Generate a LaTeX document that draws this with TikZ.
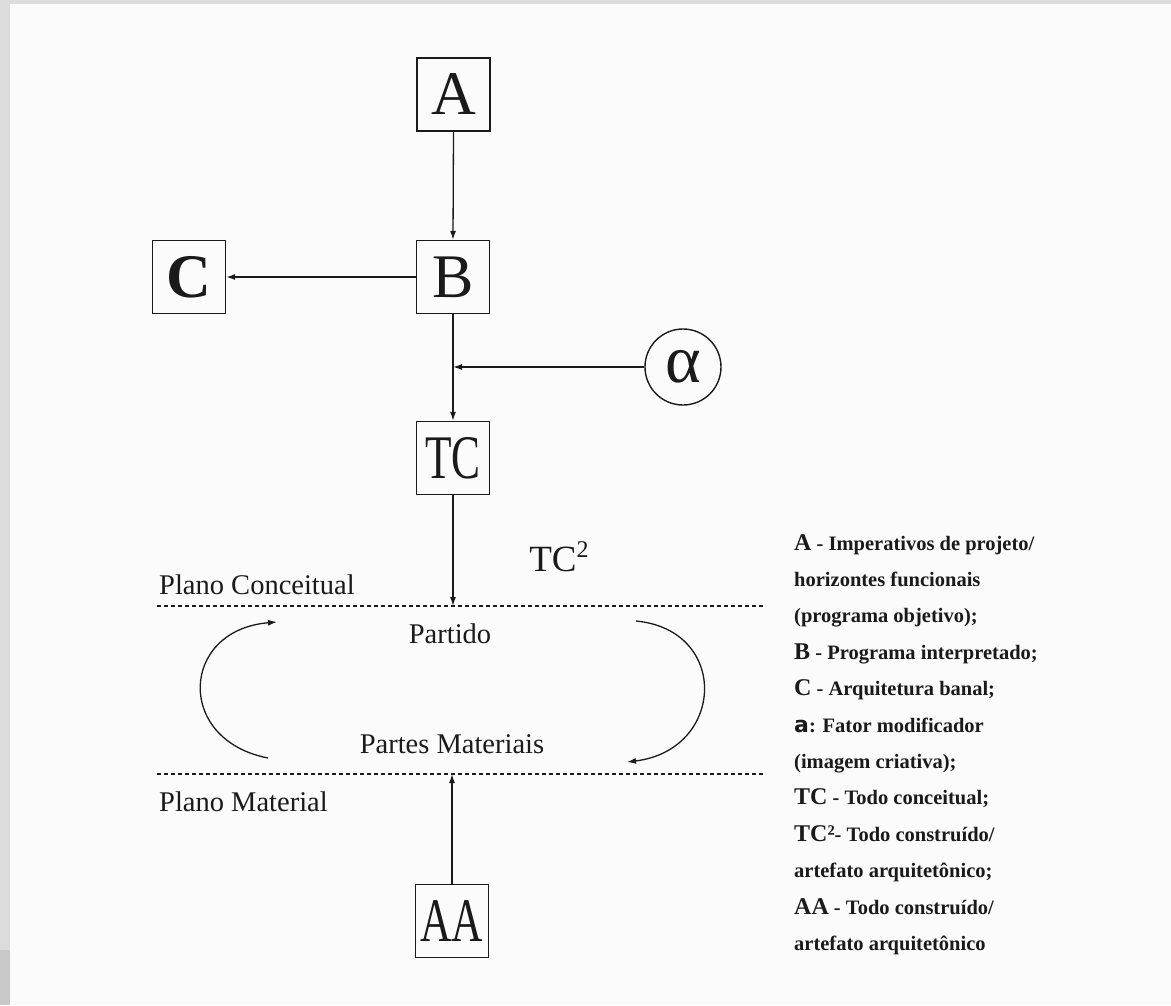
\documentclass[tikz,border=0pt]{standalone}
\usepackage{fontspec}
\setmainfont{Liberation Serif}
\newfontfamily\heavysans{DejaVu Sans}
\usetikzlibrary{arrows.meta}
\definecolor{pagebg}{HTML}{FBFBFB}
\definecolor{rim}{HTML}{DCDCDC}
\definecolor{rimdark}{HTML}{C8C8C8}
\definecolor{ink}{HTML}{1A1A1A}
\begin{document}
\begin{tikzpicture}[x=1pt,y=-1pt,
  boxnode/.style={draw=ink,line width=1.4pt,minimum size=73pt,inner sep=0pt,text=ink,font=\fontsize{62}{62}\selectfont},
  circnode/.style={draw=ink,line width=1.4pt,circle,minimum size=76pt,inner sep=0pt,text=ink,font=\fontsize{68}{68}\selectfont},
  arr/.style={draw=ink,line width=1.3pt,-{Latex[length=9pt,width=6pt]}},
  planeline/.style={draw=ink,line width=1.2pt,dash pattern=on 4pt off 3pt},
  lbl/.style={text=ink,inner sep=0pt,font=\fontsize{28.5}{28.5}\selectfont},
  legendtext/.style={text=ink,inner sep=0pt,align=left,anchor=north west,font=\fontsize{20.5}{36.4}\selectfont\bfseries},
  legkey/.style={font=\fontsize{24}{24}\selectfont\bfseries}
]
\useasboundingbox (0,0) rectangle (1171,1005);
\fill[rim] (0,0) rectangle (1171,1005);
\fill[rimdark] (0,950) rectangle (10,1005);
\fill[pagebg] (10,4) rectangle (1171,1005);

% boxes
\node[boxnode] (A) at (453.5,94.5) {A};
\node[boxnode] (B) at (453,277) {B};
\node[boxnode] (C) at (189,277) {\bfseries C};
\node[boxnode] (TC) at (453,458) {\scalebox{0.7}[1]{TC}};
\node[boxnode] (AA) at (452,921) {\scalebox{0.7}[1]{AA}};
\node[circnode] (alpha) at (683,367) {\raisebox{2pt}{α}};

% plane lines
\coordinate (p1l) at (157,606);
\coordinate (p1r) at (766,606);
\coordinate (p2l) at (157,774);
\coordinate (p2r) at (766,774);
\draw[planeline] (p1l) -- (p1r);
\draw[planeline] (p2l) -- (p2r);

\coordinate (j) at (453,367);
\coordinate (t1) at (453,606);
\coordinate (t2) at (452,774);

% connectors
\draw[arr] (A.south) -- (B.north);
\draw[arr] (B.west) -- (C.east);
\draw[arr] (B.south) -- (TC.north);
\draw[arr] (alpha.west) -- (j);
\draw[arr] (TC.south) -- (t1);
\draw[arr] (AA.north) -- (t2);

% cycle arrows
\coordinate (la) at (268,758);
\coordinate (lb) at (277,622);
\coordinate (ra) at (636,621);
\coordinate (rb) at (627,762);
\draw[arr] (la) .. controls (175,740) and (180,630) .. (lb);
\draw[arr] (ra) .. controls (730,630) and (725,750) .. (rb);

% labels
\node[lbl,anchor=base west] (pc) at (159,594) {Plano Conceitual};
\node[lbl,anchor=base west] (pm) at (159,811) {Plano Material};
\node[lbl] (partido) at (450,634) {Partido};
\node[lbl] (partes) at (452,744) {Partes Materiais};
\node[text=ink,inner sep=0pt,font=\fontsize{37}{37}\selectfont] (tc2) at (559,557) {TC\raisebox{14pt}{\fontsize{24}{24}\selectfont 2}};

% legend
\node[legendtext] (legend) at (794,534) {%
{\fontsize{24}{24}\selectfont A} - Imperativos de projeto/\\
horizontes funcionais\\
(programa objetivo);\\
{\fontsize{24}{24}\selectfont B} - Programa interpretado;\\
{\fontsize{24}{24}\selectfont C} - Arquitetura banal;\\
{\heavysans\fontsize{22}{22}\selectfont a}: Fator modificador\\
(imagem criativa);\\
{\fontsize{24}{24}\selectfont TC} - Todo conceitual;\\
{\fontsize{24}{24}\selectfont TC²}- Todo construído/\\
artefato arquitetônico;\\
{\fontsize{24}{24}\selectfont AA} - Todo construído/\\
artefato arquitetônico};
\end{tikzpicture}
\end{document}
